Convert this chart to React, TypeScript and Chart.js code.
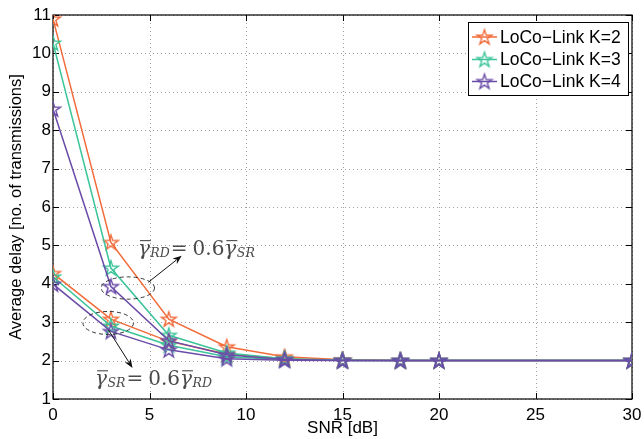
import React, { useEffect, useRef } from "react";
import { Chart, registerables } from "chart.js";

Chart.register(...registerables);

// ---- data ----
const snr = [0, 3, 6, 9, 12, 15, 18, 20, 30];
// gamma_RD = 0.6 gamma_SR (upper group)
const rdK2 = [10.9, 5.08, 3.08, 2.36, 2.1, 2.02, 2.0, 2.0, 2.0];
const rdK3 = [10.27, 4.41, 2.66, 2.2, 2.05, 2.01, 2.0, 2.0, 2.0];
const rdK4 = [8.55, 3.93, 2.52, 2.15, 2.03, 2.0, 2.0, 2.0, 2.0];
// gamma_SR = 0.6 gamma_RD (lower group)
const srK2 = [4.27, 3.08, 2.5, 2.17, 2.05, 2.01, 2.0, 2.0, 2.0];
const srK3 = [4.18, 2.9, 2.4, 2.1, 2.03, 2.0, 2.0, 2.0, 2.0];
const srK4 = [3.99, 2.76, 2.28, 2.05, 2.01, 2.0, 2.0, 2.0, 2.0];

const seriesNames = ["LoCo\u2212Link K=2", "LoCo\u2212Link K=3", "LoCo\u2212Link K=4"];
const seriesColors = ["#F26B3A", "#3CC49A", "#6A4CA8"];

const xTitle = "SNR [dB]";
const yTitle = "Average delay [no. of transmissions]";

const SANS = "'Liberation Sans', Arial, Helvetica, sans-serif";
const SERIF = "'DejaVu Serif', 'Liberation Serif', serif";

function makeStar(color: string): HTMLCanvasElement {
  const c = document.createElement("canvas");
  c.width = 20;
  c.height = 20;
  const ctx = c.getContext("2d")!;
  const R = 7.8;
  const r = 3.0;
  ctx.beginPath();
  for (let i = 0; i < 10; i++) {
    const rad = i % 2 === 0 ? R : r;
    const a = -Math.PI / 2 + (i * Math.PI) / 5;
    const x = 10 + rad * Math.cos(a);
    const y = 10.6 + rad * Math.sin(a);
    if (i === 0) ctx.moveTo(x, y);
    else ctx.lineTo(x, y);
  }
  ctx.closePath();
  ctx.strokeStyle = color;
  ctx.lineWidth = 1.4;
  ctx.lineJoin = "miter";
  ctx.stroke();
  return c;
}

export default function App() {
  const ref = useRef<HTMLCanvasElement>(null);

  useEffect(() => {
    document.body.style.margin = "0";
    const stars = seriesColors.map(makeStar);
    const mk = (vals: number[], k: number, order: number) => ({
      label: seriesNames[k],
      data: snr.map((x, i) => ({ x, y: vals[i] })),
      borderColor: seriesColors[k],
      backgroundColor: seriesColors[k],
      borderWidth: 1.5,
      pointStyle: stars[k],
      pointRadius: 7,
      pointHoverRadius: 7,
      tension: 0,
      order,
    });

    const annotPlugin = {
      id: "matlabDecor",
      beforeDatasetsDraw(chart: any) {
        const { ctx, chartArea: a, scales } = chart;
        const xs = scales.x;
        const ys = scales.y;
        ctx.save();
        // dotted grid
        ctx.strokeStyle = "#a0a0a0";
        ctx.lineWidth = 1;
        ctx.setLineDash([1, 3]);
        xs.ticks.forEach((t: any) => {
          const p = Math.round(xs.getPixelForValue(t.value)) + 0.5;
          ctx.beginPath();
          ctx.moveTo(p, a.top);
          ctx.lineTo(p, a.bottom);
          ctx.stroke();
        });
        ys.ticks.forEach((t: any) => {
          const p = Math.round(ys.getPixelForValue(t.value)) + 0.5;
          ctx.beginPath();
          ctx.moveTo(a.left, p);
          ctx.lineTo(a.right, p);
          ctx.stroke();
        });
        ctx.setLineDash([]);
        // box
        ctx.strokeStyle = "#000";
        ctx.lineWidth = 1.2;
        ctx.strokeRect(a.left, a.top, a.right - a.left, a.bottom - a.top);
        // inward ticks
        const tl = 6;
        ctx.lineWidth = 1;
        xs.ticks.forEach((t: any) => {
          const p = Math.round(xs.getPixelForValue(t.value)) + 0.5;
          ctx.beginPath();
          ctx.moveTo(p, a.bottom);
          ctx.lineTo(p, a.bottom - tl);
          ctx.moveTo(p, a.top);
          ctx.lineTo(p, a.top + tl);
          ctx.stroke();
        });
        ys.ticks.forEach((t: any) => {
          const p = Math.round(ys.getPixelForValue(t.value)) + 0.5;
          ctx.beginPath();
          ctx.moveTo(a.left, p);
          ctx.lineTo(a.left + tl, p);
          ctx.moveTo(a.right, p);
          ctx.lineTo(a.right - tl, p);
          ctx.stroke();
        });
        ctx.restore();
      },
      afterDatasetsDraw(chart: any) {
        const { ctx, scales } = chart;
        const X = (v: number) => scales.x.getPixelForValue(v);
        const Y = (v: number) => scales.y.getPixelForValue(v);
        ctx.save();
        // dashed ellipses
        ctx.strokeStyle = "#222";
        ctx.lineWidth = 0.9;
        ctx.setLineDash([4, 3]);
        const ell = (cx: number, cy: number, rx: number, ry: number) => {
          const px = X(cx);
          const py = Y(cy);
          const rpx = X(cx + rx) - px;
          const rpy = py - Y(cy + ry);
          ctx.beginPath();
          ctx.ellipse(px, py, rpx, rpy, 0, 0, Math.PI * 2);
          ctx.stroke();
        };
        ell(3.88, 3.89, 1.38, 0.29);
        ell(2.86, 2.98, 1.31, 0.3);
        ctx.setLineDash([]);
        // arrows
        const arrow = (x0: number, y0: number, x1: number, y1: number) => {
          const ax = X(x0), ay = Y(y0), bx = X(x1), by = Y(y1);
          const ang = Math.atan2(by - ay, bx - ax);
          const hl = 9, hw = 3.5;
          ctx.strokeStyle = "#111";
          ctx.fillStyle = "#111";
          ctx.lineWidth = 1;
          ctx.beginPath();
          ctx.moveTo(ax, ay);
          ctx.lineTo(bx - hl * 0.8 * Math.cos(ang), by - hl * 0.8 * Math.sin(ang));
          ctx.stroke();
          ctx.beginPath();
          ctx.moveTo(bx, by);
          ctx.lineTo(bx - hl * Math.cos(ang) + hw * Math.sin(ang), by - hl * Math.sin(ang) - hw * Math.cos(ang));
          ctx.lineTo(bx - hl * 0.7 * Math.cos(ang), by - hl * 0.7 * Math.sin(ang));
          ctx.lineTo(bx - hl * Math.cos(ang) - hw * Math.sin(ang), by - hl * Math.sin(ang) + hw * Math.cos(ang));
          ctx.closePath();
          ctx.fill();
        };
        arrow(4.94, 4.04, 6.67, 4.73);
        arrow(2.87, 2.8, 4.12, 1.81);
        // math labels
        const mathLabel = (x: number, y: number, a: string, b: string) => {
          let px = X(x);
          const py = Y(y);
          ctx.fillStyle = "#4a4a4a";
          ctx.strokeStyle = "#4a4a4a";
          ctx.textBaseline = "alphabetic";
          ctx.textAlign = "left";
          const gamma = () => {
            ctx.font = `italic 20px ${SERIF}`;
            ctx.fillText("\u03b3", px, py);
            const w = ctx.measureText("\u03b3").width;
            ctx.lineWidth = 1.1;
            ctx.beginPath();
            ctx.moveTo(px + 2, py - 14);
            ctx.lineTo(px + w + 1, py - 14);
            ctx.stroke();
            px += w + 0.5;
          };
          const sub = (s: string) => {
            ctx.font = `italic 12.5px ${SERIF}`;
            ctx.fillText(s, px, py + 2);
            px += ctx.measureText(s).width + 1;
          };
          gamma();
          sub(a);
          ctx.font = `20px ${SERIF}`;
          ctx.fillText("=", px, py);
          px += ctx.measureText("=").width + 5;
          ctx.fillText("0.6", px, py);
          px += ctx.measureText("0.6").width;
          gamma();
          sub(b);
        };
        mathLabel(4.4, 4.76, "RD", "SR");
        mathLabel(2.18, 1.37, "SR", "RD");
        // legend
        const lx = 468, ly = 22, lw = 160, lh = 73;
        ctx.fillStyle = "#fff";
        ctx.fillRect(lx, ly, lw, lh);
        ctx.strokeStyle = "#000";
        ctx.lineWidth = 1;
        ctx.strokeRect(lx + 0.5, ly + 0.5, lw, lh);
        const rows = [37, 59.5, 81.5];
        rows.forEach((ry, k) => {
          ctx.strokeStyle = seriesColors[k];
          ctx.lineWidth = 1.5;
          ctx.beginPath();
          ctx.moveTo(lx + 4, ry);
          ctx.lineTo(lx + 29, ry);
          ctx.stroke();
          ctx.drawImage(stars[k], lx + 16.5 - 10, ry - 10);
          ctx.fillStyle = "#000";
          ctx.font = `17.5px ${SANS}`;
          ctx.textBaseline = "middle";
          ctx.textAlign = "left";
          ctx.fillText(seriesNames[k], lx + 32, ry + 1);
        });
        ctx.restore();
      },
    };

    const chart = new Chart(ref.current!, {
      type: "line",
      data: {
        datasets: [
          mk(rdK2, 0, 3),
          mk(rdK3, 1, 2),
          mk(rdK4, 2, 1),
          mk(srK2, 0, 3),
          mk(srK3, 1, 2),
          mk(srK4, 2, 1),
        ] as any,
      },
      options: {
        animation: false,
        responsive: false,
        maintainAspectRatio: false,
        layout: { padding: { top: 15, right: 12, left: 0, bottom: 0 } },
        plugins: { legend: { display: false }, tooltip: { enabled: false } },
        scales: {
          x: {
            type: "linear",
            min: 0,
            max: 30,
            ticks: { stepSize: 5, color: "#000", padding: 6, font: { family: SANS, size: 17 } },
            grid: { display: false, drawTicks: false },
            border: { display: false },
            title: {
              display: true,
              text: xTitle,
              color: "#000",
              font: { family: SANS, size: 17 },
              padding: { top: 0, bottom: 0 },
            },
            afterFit: (s: any) => {
              s.height = 40;
              s.paddingLeft = 0;
              s.paddingRight = 0;
            },
          },
          y: {
            type: "linear",
            min: 1,
            max: 11,
            ticks: { stepSize: 1, color: "#000", padding: 2, font: { family: SANS, size: 17 } },
            grid: { display: false, drawTicks: false },
            border: { display: false },
            title: {
              display: true,
              text: yTitle,
              color: "#000",
              font: { family: SANS, size: 16.5 },
              padding: { top: 7, bottom: 0 },
            },
            afterFit: (s: any) => {
              s.width = 53;
              s.paddingTop = 0;
              s.paddingBottom = 0;
            },
          },
        },
      } as any,
      plugins: [annotPlugin],
    });
    return () => chart.destroy();
  }, []);

  return (
    <div style={{ width: 644, height: 439 }}>
      <canvas ref={ref} width={644} height={439} />
    </div>
  );
}
